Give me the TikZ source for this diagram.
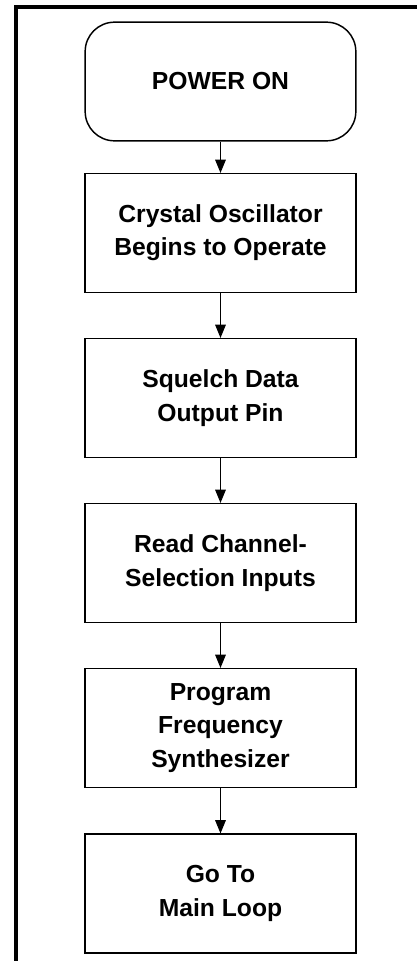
\documentclass[tikz,border=0pt]{standalone}
\usepackage{fontspec}
\setmainfont{Liberation Sans}
\usetikzlibrary{arrows.meta}
\begin{document}
\begin{tikzpicture}[x=0.75pt,y=-0.75pt]
	\useasboundingbox (0,0) rectangle (417,961);
	\draw[line width=2.6pt] (16,961) -- (16,7) -- (417,7);
	\begin{scope}[every node/.style={draw,line width=1.1pt,minimum width=203pt,minimum height=89pt,inner sep=0,align=center,font=\fontsize{18.5}{25}\selectfont\bfseries}]
		\node[rounded corners=22pt] (power) at (220.5,81.5) {POWER ON};
		\node (osc) at (220.5,233) {Crystal Oscillator\\Begins to Operate};
		\node (squelch) at (220.5,398) {Squelch Data\\Output Pin};
		\node (chan) at (220.5,563) {Read Channel-\\Selection Inputs};
		\node (synth) at (220.5,728) {Program\\Frequency\\Synthesizer};
		\node (loop) at (220.5,893.5) {Go To\\Main Loop};
	\end{scope}
	\path [-{Triangle[width=8pt,length=10pt]},line width=0.8pt](power) edge node {} (osc);
	\path [-{Triangle[width=8pt,length=10pt]},line width=0.8pt](osc) edge node {} (squelch);
	\path [-{Triangle[width=8pt,length=10pt]},line width=0.8pt](squelch) edge node {} (chan);
	\path [-{Triangle[width=8pt,length=10pt]},line width=0.8pt](chan) edge node {} (synth);
	\path [-{Triangle[width=8pt,length=10pt]},line width=0.8pt](synth) edge node {} (loop);
	
\end{tikzpicture}
\end{document}
